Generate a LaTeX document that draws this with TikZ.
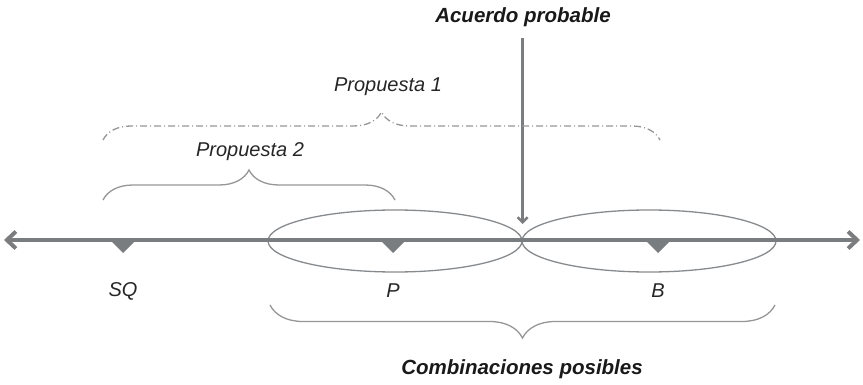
\documentclass[tikz,border=0pt]{standalone}
\usepackage{fontspec}
\setmainfont{Liberation Sans}
\usetikzlibrary{arrows.meta, decorations.pathreplacing, shapes.geometric}
\definecolor{axisgray}{RGB}{122,125,128}
\definecolor{lightgray}{RGB}{150,150,150}
\tikzstyle{axis} = [line width=4pt, draw=axisgray, {Straight Barb[length=9pt,width=17pt]}-{Straight Barb[length=9pt,width=17pt]}]
\tikzstyle{arrow} = [line width=2.5pt, draw=axisgray, -{Straight Barb[length=5pt,width=10pt]}]
\tikzstyle{zone} = [draw=axisgray!90, line width=1.3pt, ellipse, inner sep=0pt, minimum width=254pt, minimum height=62pt]
\tikzstyle{brace} = [draw=lightgray, line width=1.3pt, decorate]
\tikzstyle{label} = [font=\itshape\fontsize{20}{24}\selectfont, text=black!85]
\tikzstyle{boldlabel} = [font=\bfseries\itshape\fontsize{20.5}{24}\selectfont, text=black!90]

\begin{document}
\begin{tikzpicture}[x=1pt, y=-1pt]
\useasboundingbox (0,0) rectangle (863,385);

% zones round P and B
\node[zone] (zp) at (395,241) {};
\node[zone] (zb) at (649,241) {};

% the line
\coordinate (axl) at (4,240);
\coordinate (axr) at (860,240);
\draw[axis] (axl) -- (axr);

% positions
\coordinate (sq) at (123,240);
\coordinate (p) at (393,240);
\coordinate (b) at (658,240);
\foreach \m in {sq,p,b}
	\fill[axisgray] ([xshift=-13pt]\m) -- ([xshift=13pt]\m) -- ([yshift=-13pt]\m) -- cycle;

\node[label] (lsq) at (123,291) {SQ};
\node[label] (lp) at (393,291) {P};
\node[label] (lb) at (658,291) {B};

% probable agreement
\node[boldlabel] (acuerdo) at (523,17) {Acuerdo probable};
\draw[arrow, shorten <=8pt, shorten >=17pt] (acuerdo.south -| zp.east) -- (zp.east);

% proposals
\coordinate (p1l) at (103,140);
\coordinate (p1r) at (660,140);
\draw[brace, dash pattern=on 7pt off 3pt on 1pt off 3pt, decoration={brace, amplitude=28pt}] (p1l) -- (p1r);
\node[label] (prop1) at (388,87) {Propuesta 1};

\coordinate (p2l) at (103,200);
\coordinate (p2r) at (395,200);
\draw[brace, decoration={brace, amplitude=30pt}] (p2l) -- (p2r);
\node[label] (prop2) at (250,152) {Propuesta 2};

% possible combinations
\coordinate (cbl) at (270,305);
\coordinate (cbr) at (775,305);
\draw[brace, decoration={brace, amplitude=33pt}] (cbr) -- (cbl);
\node[boldlabel] (comb) at (522,369) {Combinaciones posibles};
\end{tikzpicture}
\end{document}
